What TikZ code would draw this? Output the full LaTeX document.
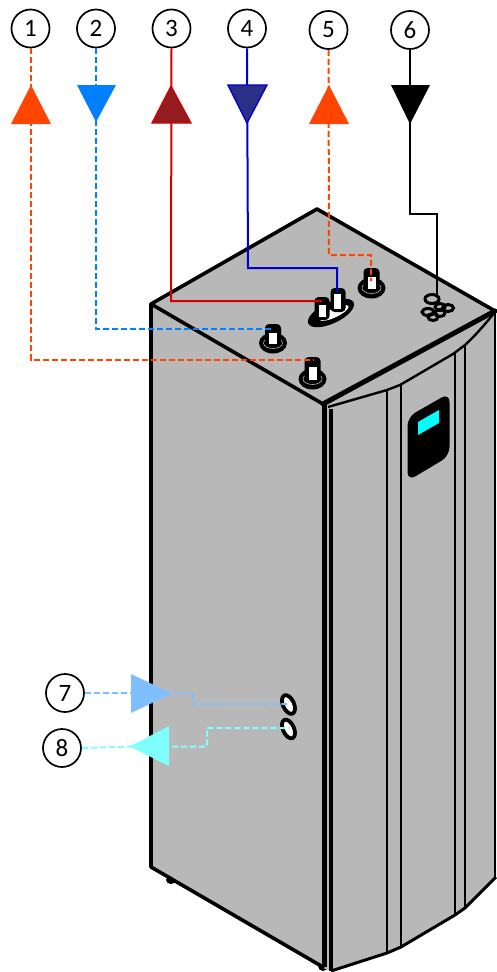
\documentclass[tikz,border=0pt]{standalone}
\usepackage{fontspec}
\setmainfont{Carlito}
\definecolor{bodygray}{HTML}{B8B8B8}
\definecolor{cOne}{HTML}{FF4500}
\definecolor{cTwo}{HTML}{0080FF}
\definecolor{cThree}{HTML}{D40000}
\definecolor{cThreeF}{HTML}{941C1F}
\definecolor{cFour}{HTML}{0000D0}
\definecolor{cFourF}{HTML}{2B3087}
\definecolor{cSeven}{HTML}{80BFFF}
\definecolor{cEight}{HTML}{80FFFF}
\definecolor{cScreen}{HTML}{00FFFF}
\tikzset{
  num/.style={circle,draw=black,line width=1.7pt,fill=white,minimum size=38pt,inner sep=0pt,font=\fontsize{25}{27}\selectfont},
  pipe/.style={line width=2pt},
  dashpipe/.style={line width=2pt,dash pattern=on 6pt off 3pt},
  edge/.style={line width=3.6pt,line join=round,line cap=round},
  thin edge/.style={line width=2.4pt,line join=round},
}
\newcommand{\stub}[4]{% x, base y, top y, white top y
  \fill[black] (#1,#2) ellipse [x radius=14,y radius=10.5];
  \draw[bodygray,line width=.6pt] (#1,#2) ellipse [x radius=9.5,y radius=5.5];
  \fill[black,rounded corners=4pt] (#1-8,#2+3.5) rectangle (#1+8,#3);
  \fill[white] (#1-4,#2+1) rectangle (#1+4,#4);
}
\begin{document}
\begin{tikzpicture}[x=1pt,y=-1pt]
\useasboundingbox (0,0) rectangle (496,972);
% feet
\fill[black] (171,880) ellipse [x radius=5,y radius=4];
\fill[black] (323,966) ellipse [x radius=5,y radius=5];
% body
\fill[bodygray] (151,304) -- (317,209) -- (496,311) -- (496,877) -- (465,908) -- (455,915) -- (401,947) -- (387,953) -- (332,971) -- (323,968) -- (151,867) -- cycle;
% left face and top outline
\draw[edge] (151,867) -- (151,304) -- (317,209) -- (495,311);
\draw[edge] (151,304) -- (323,404);
\draw[edge] (151,867) -- (323,967);
\draw[line width=5.5pt] (324.5,403) -- (324.5,967);
\draw[line width=3.5pt] (331,409) -- (331,971);
\draw[line width=5pt,line cap=round] (323,404) -- (495,311);
% front face
\draw[thin edge] (328,407) -- (387,390) -- (400,385) -- (453,354) -- (465,345) .. controls (476,335) and (486,323) .. (495,312);
\draw[line width=3pt,line join=round] (331,971) -- (387,953) -- (401,947) -- (455,915) -- (465,908) -- (496,877);
\draw[line width=2.5pt] (387,390) -- (387,953);
\draw[line width=2.5pt] (401,385) -- (401,947);
\draw[line width=2.5pt] (455,353) -- (455,915);
\draw[line width=2.5pt] (465,345) -- (465,908);
\draw[line width=1.8pt] (495,312) -- (495,877);
% display
\fill[black,rounded corners=9pt] (407.5,417) -- (449.5,393) -- (449.5,456) -- (407.5,481) -- cycle;
\fill[cScreen] (418,422) -- (439,410) -- (439,423) -- (418,435) -- cycle;
% stubs
\stub{312.5}{379}{357}{367}
\stub{273}{343}{324}{333}
\stub{371.5}{288}{268}{277}
% double stub
\fill[black] (331,313) ellipse [x radius=25,y radius=10.5,rotate=25];
\fill[white] (334,313) ellipse [x radius=16,y radius=4.5,rotate=25];
\fill[black,rounded corners=4pt] (314.5,320) rectangle (329.5,297);
\fill[white] (319,317) rectangle (326,305);
\fill[black,rounded corners=4pt] (330.5,312) rectangle (345.5,288);
\fill[white] (334,309) rectangle (341,294);
% signal rings
\foreach \cx/\cy/\rx/\ry in {432/299/7/4.5,428/312/6/3.5,440/307/5/3.5,448/308/5.5/3.5,440/313/5/3.5,433/317/5/3.5}
  \draw[line width=3pt] (\cx,\cy) ellipse [x radius=\rx,y radius=\ry];
% side ports
\draw[line width=3.8pt,fill=white] (288.5,704.5) ellipse [x radius=5.5,y radius=10,rotate=25];
\draw[line width=3.8pt,fill=white] (288.5,729) ellipse [x radius=5.5,y radius=10,rotate=25];
% numbered nodes
\node[num] (n1) at (30.5,28.5) {1};
\node[num] (n2) at (96,28.5) {2};
\node[num] (n3) at (171.5,28.5) {3};
\node[num] (n4) at (247,28.5) {4};
\node[num] (n5) at (328.5,30) {5};
\node[num] (n6) at (410,30) {6};
\node[num] (n7) at (65,693) {7};
\node[num] (n8) at (62,748) {8};
% connector ends
\coordinate (p1) at (313,360);
\coordinate (p2) at (272,329);
\coordinate (p3) at (322,301);
\coordinate (p4) at (337,292);
\coordinate (p5) at (371,281);
\coordinate (p6) at (437,298);
\coordinate (p7) at (290,704);
\coordinate (p8) at (290,728);
\coordinate (k4) at (248,268);
\coordinate (k5) at (329,255);
\coordinate (k6) at (410,214);
\coordinate (k7) at (193,693.5);
\coordinate (k8) at (207,746.5);
% connectors
\draw[cOne,dashpipe] (n1.south) -- (30.5,360) -- (p1);
\draw[cTwo,dashpipe] (n2.south) -- (96,329) -- (p2);
\draw[cThree,pipe] (n3.south) -- (171,301) -- (p3);
\draw[cFour,pipe] (n4.south) -- (k4) -- (337,268) -- (p4);
\draw[cOne,dashpipe] (n5.south) -- (k5) -- (371,255) -- (p5);
\draw[black,pipe] (n6.south) -- (k6) -- (437,214) -- (p6);
\draw[cSeven,dashpipe] (n7.east) -- (k7) -- (193,704) -- (p7);
\draw[cEight,dashpipe] (n8.east) -- (130,746.5) -- (k8) -- (207,728) -- (p8);
% triangles
\fill[cOne] (31,85) -- (51,124) -- (11,124) -- cycle;
\fill[cTwo] (77,85) -- (116,85) -- (96,122) -- cycle;
\draw[cThree,line width=1.2pt,fill=cThreeF] (171,86) -- (191,123) -- (152,123) -- cycle;
\draw[cFour,line width=1.4pt,fill=cFourF] (228,85) -- (267,85) -- (247,123) -- cycle;
\fill[cOne] (329,85) -- (349,124) -- (309,124) -- cycle;
\fill[black] (391,85) -- (430,85) -- (410,124) -- cycle;
\fill[cSeven] (131,674) -- (172,693.5) -- (131,713) -- cycle;
\fill[cEight] (169,726) -- (169,766) -- (130,746.5) -- cycle;
\end{tikzpicture}
\end{document}
